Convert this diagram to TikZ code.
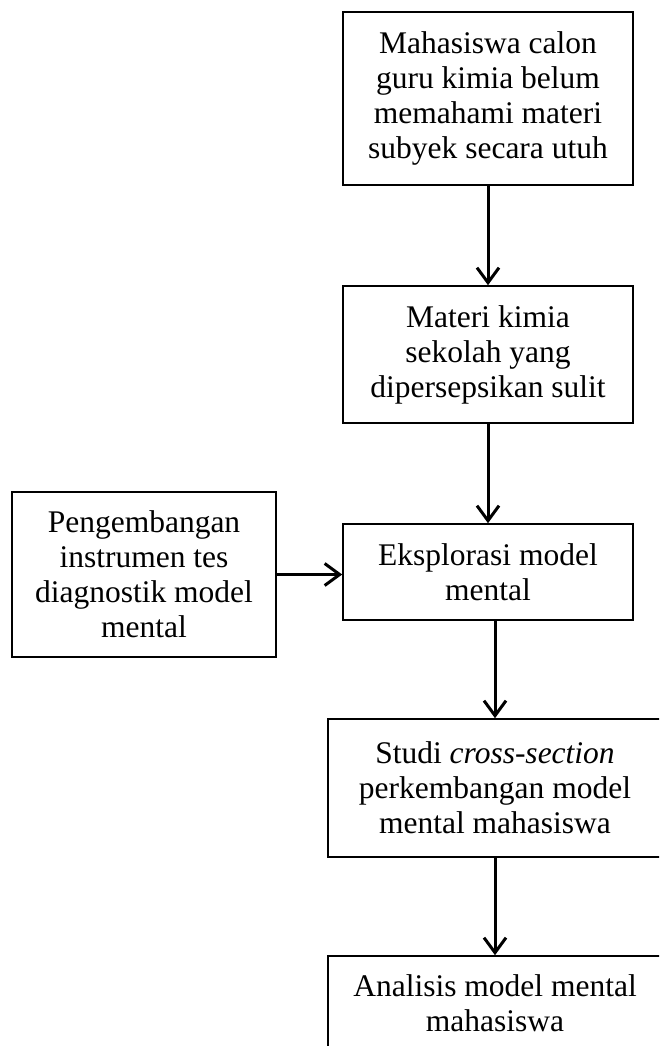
\documentclass[tikz,border=0pt]{standalone}
\usepackage{fontspec}
\setmainfont{Liberation Serif}
\usetikzlibrary{arrows.meta}
\begin{document}
\begin{tikzpicture}[x=1pt,y=-1pt,
  box/.style={draw, line width=1.6pt, align=center, inner sep=0pt,
    font=\fontsize{31.5}{35}\selectfont},
  arr/.style={line width=3pt, -{Straight Barb[length=15pt,width=22pt]}}]
\useasboundingbox (0,0) rectangle (659,1046);
\clip (0,0) rectangle (659,1046);
\node[box, minimum width=290pt, minimum height=173pt] (b1) at (488,98.5)
  {Mahasiswa calon\\guru kimia belum\\memahami materi\\subyek secara utuh};
\node[box, minimum width=290pt, minimum height=137pt] (b2) at (488,354.5)
  {Materi kimia\\sekolah yang\\dipersepsikan sulit};
\node[box, minimum width=264pt, minimum height=165pt] (b3) at (144,574.5)
  {Pengembangan\\instrumen tes\\diagnostik model\\mental};
\node[box, minimum width=290pt, minimum height=96pt] (b4) at (488,572)
  {Eksplorasi model\\mental};
\node[box, minimum width=334pt, minimum height=138pt] (b5) at (495,788)
  {Studi \textit{cross-section}\\perkembangan model\\mental mahasiswa};
\node[box, minimum width=334pt, minimum height=140pt] (b6) at (495,1026)
  {};
\node[font=\fontsize{31.5}{35}\selectfont, align=center, inner sep=0pt] (t6) at (495,1003)
  {Analisis model mental\\mahasiswa};
\draw[arr] (b1.south) -- (b2.north);
\draw[arr] (b2.south) -- (b4.north);
\draw[arr] (b3.east) -- (b3.east -| b4.west);
\draw[arr] (b5.north |- b4.south) -- (b5.north);
\draw[arr] (b6.north |- b5.south) -- (b6.north);
\end{tikzpicture}
\end{document}
